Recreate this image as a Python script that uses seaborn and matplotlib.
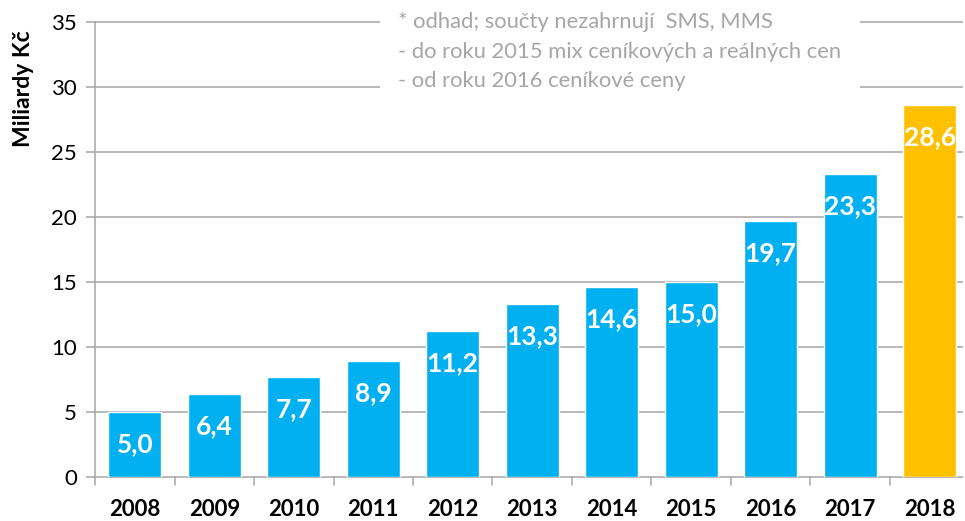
import matplotlib
matplotlib.use("Agg")
import matplotlib.pyplot as plt
import seaborn as sns
import pandas as pd

years = ["2008", "2009", "2010", "2011", "2012", "2013", "2014", "2015", "2016", "2017", "2018"]
values = [5.0, 6.4, 7.7, 8.9, 11.2, 13.3, 14.6, 15.0, 19.7, 23.3, 28.6]
value_labels = ["5,0", "6,4", "7,7", "8,9", "11,2", "13,3", "14,6", "15,0", "19,7", "23,3", "28,6"]
y_ticks = [0, 5, 10, 15, 20, 25, 30, 35]
note_lines = [
    "* odhad; součty nezahrnují  SMS, MMS",
    "- do roku 2015 mix ceníkových a reálných cen",
    "- od roku 2016 ceníkové ceny",
]

sns.set_theme(style="white")
plt.rcParams["font.family"] = ["Lato", "DejaVu Sans"]

blue = "#00B0F0"
gold = "#FFC000"
grid_c = "#A6A6A6"

df = pd.DataFrame({"rok": years, "hodnota": values})
palette = [blue] * (len(years) - 1) + [gold]

W, H = 965, 521
fig = plt.figure(figsize=(W / 100, H / 100), dpi=100)
ax_left, ax_right = 95, 969.5
ax_bottom, ax_top = 477, 22
ax = fig.add_axes([ax_left / W, 1 - ax_bottom / H,
                   (ax_right - ax_left) / W, (ax_bottom - ax_top) / H])

sns.barplot(data=df, x="rok", y="hodnota", hue="rok", palette=palette,
            legend=False, width=0.67, saturation=1, ax=ax, zorder=3)

ax.set_xlim(-0.5, len(years) - 0.5)
ax.set_ylim(0, 35)
ax.set_yticks(y_ticks)
ax.set_yticklabels([str(t) for t in y_ticks], fontsize=16, color="#000000")

# gridlines extending left past the axis like tick marks
for t in y_ticks:
    ax.plot([-0.615, len(years) - 0.58], [t, t], color=grid_c, lw=1.1,
            zorder=1, clip_on=False, solid_capstyle="butt")

ax.tick_params(axis="y", length=0, pad=13)
ax.tick_params(axis="x", length=0, pad=16)
for lbl in ax.get_xticklabels():
    lbl.set_fontweight("bold")
    lbl.set_fontsize(16)
    lbl.set_color("#000000")

# category separator ticks under the x axis
for i in range(len(years)):
    ax.plot([i - 0.5, i - 0.5], [0, -0.6], color=grid_c, lw=1.1,
            clip_on=False, zorder=2)

for s in ["top", "right", "bottom"]:
    ax.spines[s].set_visible(False)
ax.spines["left"].set_color(grid_c)
ax.spines["left"].set_linewidth(1.1)
ax.spines["left"].set_zorder(2)

ax.set_xlabel("")
ax.set_ylabel("")
fig.text(23 / W, 1 - 89 / H, "Miliardy Kč", rotation=90, ha="center",
         va="center", fontsize=16.5, fontweight="bold", color="#000000")

for i, (v, lab) in enumerate(zip(values, value_labels)):
    ax.annotate(lab, xy=(i, v), xytext=(0, -23), textcoords="offset points",
                ha="center", va="center", color="white", fontsize=19,
                fontweight="bold", zorder=5)

# note box masking the gridlines
ax.fill_between([3.08, 9.12], 28.5, 36.5, color="white", zorder=2.5,
                clip_on=False, linewidth=0)
for k, line in enumerate(note_lines):
    fig.text(398 / W, 1 - (22 + 29.5 * k) / H, line, ha="left", va="center",
             fontsize=15.8, color="#A6A6A6", zorder=6)

fig.savefig("out.png", dpi=100)
